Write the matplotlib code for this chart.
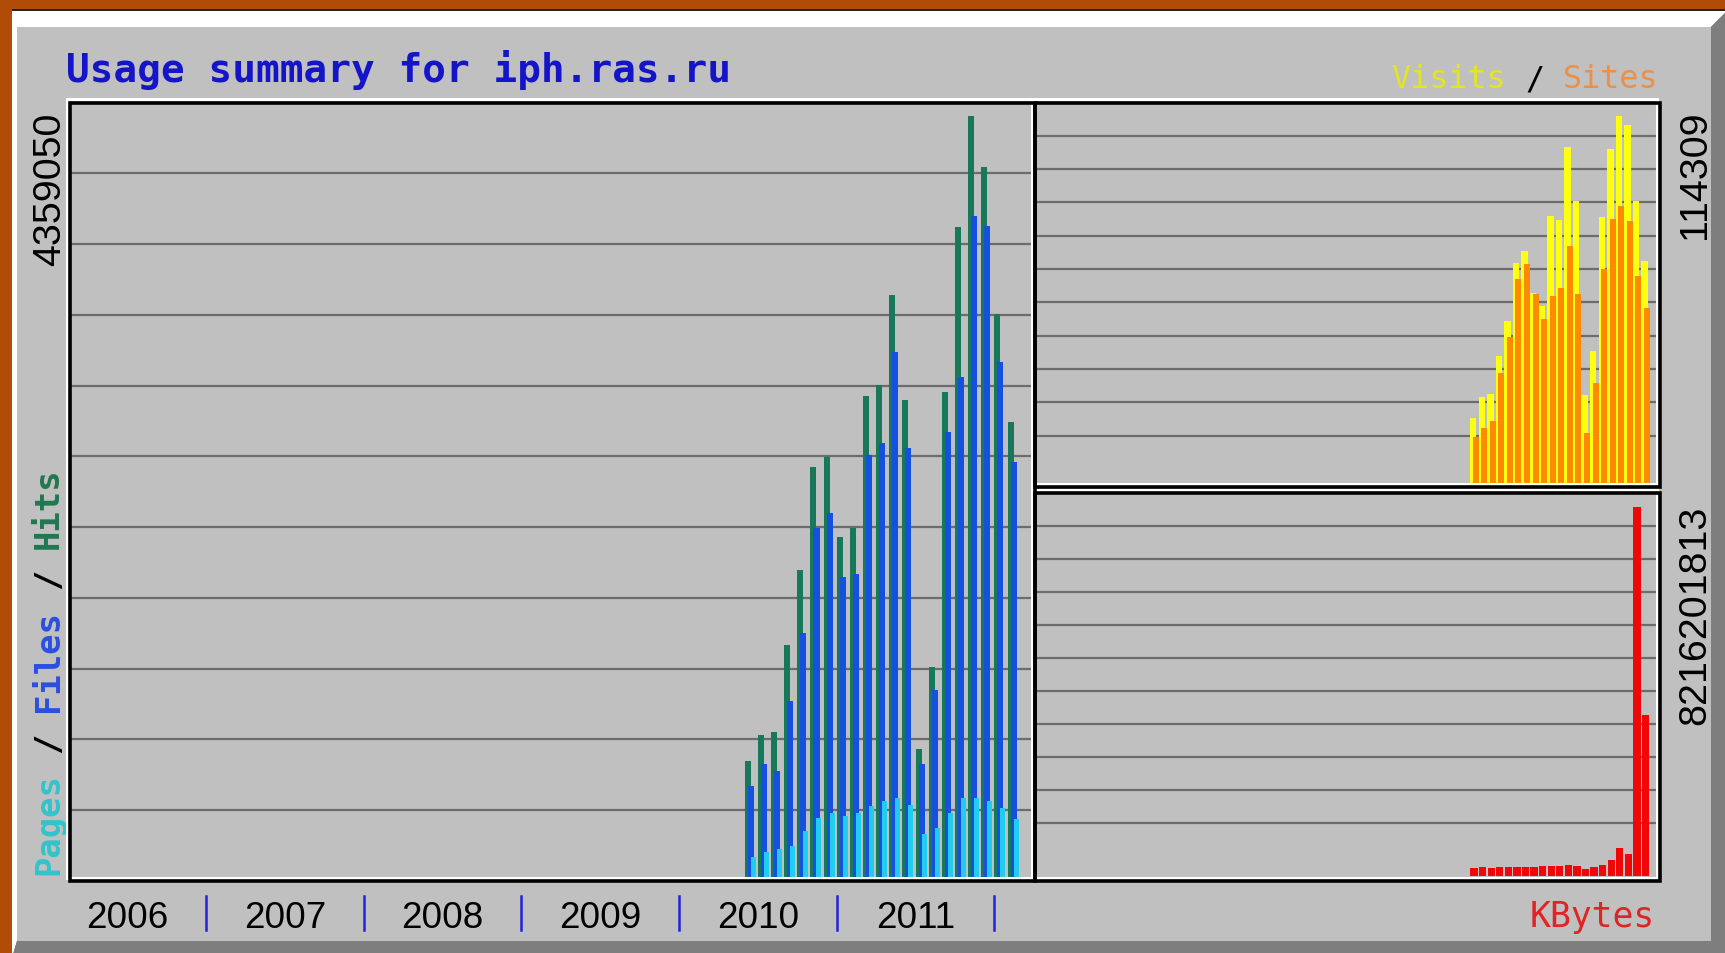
import matplotlib
matplotlib.use('Agg')
import matplotlib.pyplot as plt
import numpy as np
from matplotlib import font_manager, transforms
from matplotlib.patches import Polygon, Rectangle

# webalizer yearly summary, monthly totals Jun 2010 .. Feb 2012
months = ['2010-06', '2010-07', '2010-08', '2010-09', '2010-10', '2010-11', '2010-12',
          '2011-01', '2011-02', '2011-03', '2011-04', '2011-05', '2011-06', '2011-07',
          '2011-08', '2011-09', '2011-10', '2011-11', '2011-12', '2012-01', '2012-02']
hits = [666200, 815500, 832800, 1326700, 1757400, 2349000, 2406400, 1946900, 1998600,
        2756700, 2819900, 3331000, 2733800, 735100, 1200300, 2779700, 3721600, 4359050,
        4066200, 3227700, 2607400]
files = [522600, 649000, 608800, 1010800, 1395600, 1998600, 2084800, 1717200, 1734400,
         2417900, 2486800, 3009400, 2458100, 649000, 1074000, 2550000, 2865900, 3784800,
         3727300, 2952000, 2377700]
pages = [114900, 143600, 160800, 178000, 264200, 338900, 367600, 350300, 367600,
         407800, 436500, 453700, 413500, 247000, 281400, 367600, 453700, 453700,
         436500, 396300, 333100]
visits = [20200, 26900, 27600, 39660, 50380, 68600, 72240, 59240, 55070, 83170, 82000,
          104520, 87850, 27480, 41010, 82650, 104000, 114309, 111280, 87850, 69120]
sites = [14470, 17070, 19150, 34250, 45490, 63400, 68080, 58710, 50900, 58190, 60790,
         73800, 58710, 15510, 31130, 66520, 82130, 86290, 81610, 64430, 54560]
kbytes = [179100000, 201490000, 179100000, 201490000, 201490000, 201490000, 201490000,
          201490000, 223870000, 223870000, 223870000, 246260000, 223870000, 156710000,
          201490000, 246260000, 358200000, 626850000, 492520000, 8216201813, 3582000000]
years = ['2006', '2007', '2008', '2009', '2010', '2011']

HIT, FILE, PAGE = '#17795A', '#1650E0', '#20CCF0'
VISIT, SITE, KBYTE = '#FFFF10', '#FF8A00', '#F00808'
GREY = '#C0C0C0'

# month index counted from Jan 2006
x = np.array([(int(m[:4]) - 2006) * 12 + int(m[5:]) - 1 for m in months])

installed = {f.name for f in font_manager.fontManager.ttflist}
if 'Liberation Sans Narrow' in installed:
    year_font, year_size = 'Liberation Sans Narrow', 32.4
else:
    year_font, year_size = 'Liberation Sans', 26.6
num_font = 'Liberation Sans'
mono = 'DejaVu Sans Mono'

W, H = 1725, 954
fig = plt.figure(figsize=(W / 100, H / 100), dpi=100)
fig.patch.set_facecolor('#B04B08')


def fx(px):
    return px / W


def fy(py):
    return 1 - py / H


def box(x0, y0, x1, y1, **kw):
    fig.add_artist(Rectangle((fx(x0), fy(y1)), fx(x1) - fx(x0), fy(y0) - fy(y1),
                             transform=fig.transFigure, **kw))


def poly(points, color):
    fig.add_artist(Polygon([(fx(px), fy(py)) for px, py in points], closed=True,
                           transform=fig.transFigure, fc=color, lw=0, zorder=-2))


def panel(x0, y0, x1, y1, xlim):
    ax = fig.add_axes([fx(x0), fy(y1), fx(x1) - fx(x0), fy(y0) - fy(y1)])
    ax.set_axis_off()
    ax.set_xlim(*xlim)
    return ax


def scale(ax, y0, y1, zero_px, peak_px, peak):
    per_px = peak / (zero_px - peak_px)
    ax.set_ylim((zero_px - y1) * per_px, (zero_px - y0) * per_px)


def grid(ax, step, height):
    for k in range(1, 11):
        f = 1 - k * step / height
        ax.plot([0, 1], [f, f], transform=ax.transAxes, color='#6C6C6C', lw=1.6, zorder=1)


def frame(x0, y0, x1, y1):
    box(x0 - 3.5, y0 - 3.5, x1 - 3.5, y1 - 3.5, fill=False, ec='white', lw=2.2, zorder=5)
    box(x0, y0, x1, y1, fill=False, ec='black', lw=2.6, zorder=6)


def mono_row(parts, x0, y0, size, vertical=False, **kw):
    """Coloured pieces of one monospaced label, each placed on its own cell."""
    adv = 0.602 * size * 100 / 72
    pos = 0
    for text, color in parts:
        lead = len(text) - len(text.lstrip())
        off = (pos + lead) * adv
        if vertical:
            fig.text(fx(x0), fy(y0 - off), text.strip(), rotation=90, rotation_mode='anchor',
                     ha='left', va='center_baseline', family=mono, size=size, color=color, **kw)
        else:
            fig.text(fx(x0 + off), fy(y0), text.strip(), ha='left', va='baseline',
                     family=mono, size=size, color=color, **kw)
        pos += len(text)


# bevelled grey image sitting on the orange slide
poly([(12, 11), (1728, 11), (1711, 28), (17, 28), (17, 942), (12, 959)], 'white')
poly([(1728, 11), (1728, 959), (12, 959), (17, 942), (1711, 942), (1711, 28)], '#7E7E7E')
box(17, 28, 1711, 942, fc=GREY, lw=0, zorder=-2)
box(12, 9.5, 1725, 11.5, fc='#2A2420', lw=0, zorder=-2)

# hits / files / pages
ax = panel(70, 103.5, 1035, 882, (1.65, 75.09))
scale(ax, 103.5, 882, 878, 117, max(hits))
grid(ax, 70.77, 778.5)
ax.bar(x, hits, width=0.46, align='edge', color=HIT, lw=0, zorder=2)
ax.bar(x + 0.23, files, width=0.46, align='edge', color=FILE, lw=0, zorder=3)
ax.bar(x + 0.46, pages, width=0.38, align='edge', color=PAGE, lw=0, zorder=4)

trans = transforms.blended_transform_factory(ax.transData, fig.transFigure)
for i, label in enumerate(years):
    ax.text(12 * i + 6, fy(928), label, transform=trans, ha='center', va='baseline',
            family=year_font, size=year_size, color='black', clip_on=False)
    ax.plot([12 * i + 12] * 2, [fy(897), fy(931)], transform=trans, color='#2222DD',
            lw=1.8, clip_on=False)

# visits / sites
ax2 = panel(1035, 103.5, 1660, 488, (2.24, 75.17))
scale(ax2, 103.5, 488, 484, 116.7, max(visits))
grid(ax2, 33.3, 384.5)
ax2.bar(x, visits, width=0.75, align='edge', color=VISIT, lw=0, zorder=2)
ax2.bar(x + 0.3, sites, width=0.7, align='edge', color=SITE, lw=0, zorder=3)

# kbytes
ax3 = panel(1035, 494, 1660, 882, (2.24, 75.17))
scale(ax3, 494, 882, 877, 508, max(kbytes))
grid(ax3, 33.0, 388)
ax3.bar(x + 0.05, kbytes, width=0.85, align='edge', color=KBYTE, lw=0, zorder=2)

frame(70, 103.5, 1035, 882)
frame(1035, 103.5, 1660, 488)
frame(1035, 494, 1660, 882)

fig.text(fx(66), fy(82), 'Usage summary for iph.ras.ru', color='#1414C8', family=mono,
         weight='bold', size=28.4, ha='left', va='baseline')

mono_row([('Pages', '#34C4CC'), (' / ', 'black'), ('Files', '#2A50E0'),
          (' / ', 'black'), ('Hits', '#207850')], 45, 875, 24.4, vertical=True,
         weight='bold')
mono_row([('Visits', '#E4E426'), (' / ', 'black'), ('Sites', '#E8914A')], 1391, 88, 22.9)

fig.text(fx(1655), fy(927), 'KBytes', ha='right', va='baseline', family=mono, size=25,
         color='#E02424')

for value, xc, top in [(max(hits), 46, 113), (max(visits), 1691, 110),
                       (max(kbytes), 1691, 506)]:
    fig.text(fx(xc), fy(top), str(value), rotation=90, rotation_mode='anchor', ha='right',
             va='center_baseline', family=num_font, size=28.4, color='black')

fig.savefig('out.png', dpi=100, facecolor=fig.get_facecolor())
